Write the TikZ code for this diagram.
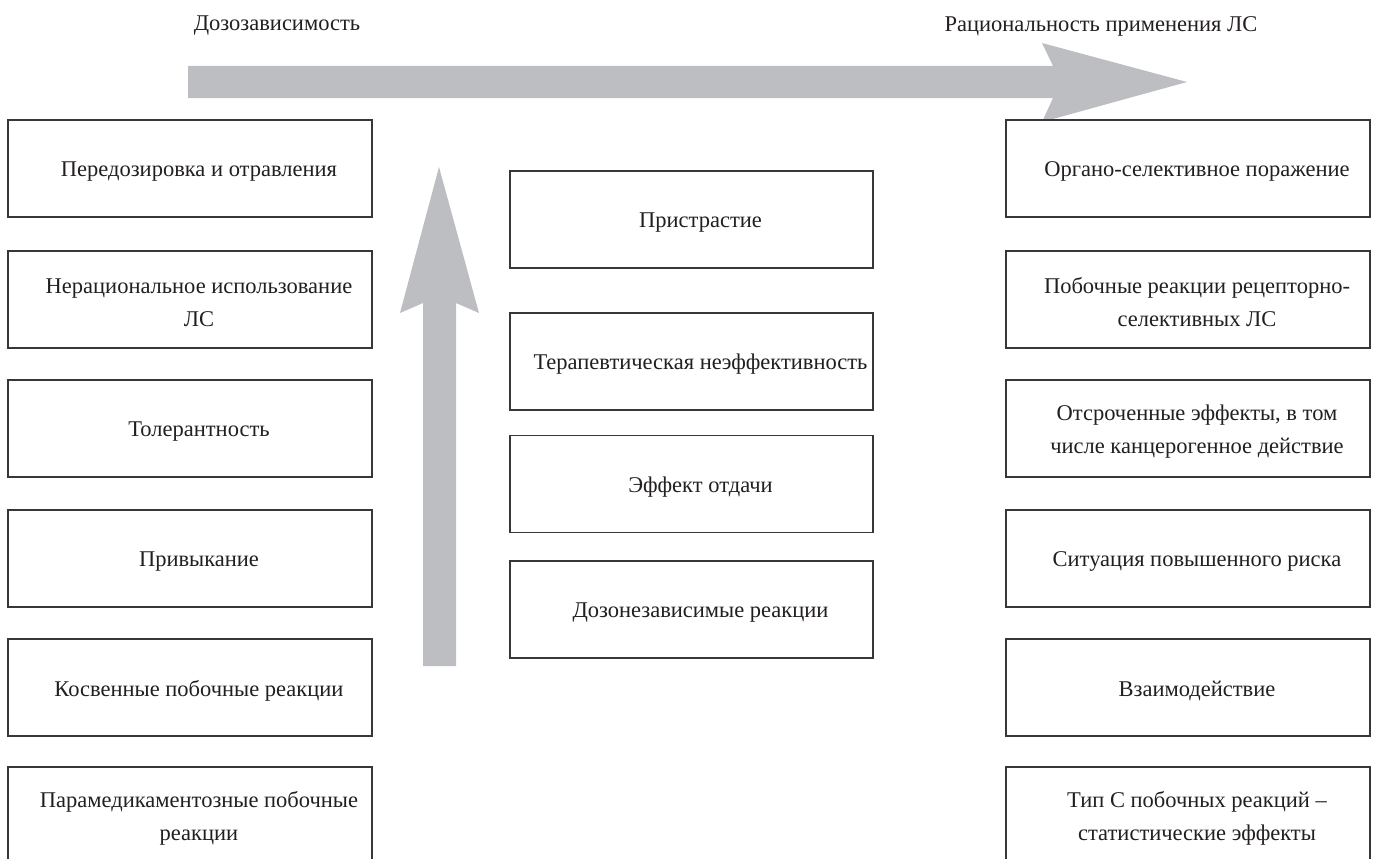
\documentclass[tikz,border=0pt]{standalone}
\usepackage{fontspec}
\setmainfont{Liberation Serif}
\definecolor{arrowgrey}{RGB}{189,190,194}
\definecolor{boxline}{RGB}{55,55,55}
\definecolor{txt}{RGB}{35,31,32}
\begin{document}
\begin{tikzpicture}[x=1pt,y=-1pt,
  every node/.style={font=\fontsize{22.5}{33}\selectfont, text=txt},
  cbox/.style={draw=boxline, line width=1.1pt, fill=white, minimum width=364pt, minimum height=97pt, inner sep=0pt},
  mbox/.style={cbox, minimum width=363pt},
  boxtext/.style={align=center, inner sep=0pt, xshift=9pt, yshift=-3pt},
  bigarrow/.style={fill=arrowgrey, draw=none}]
\useasboundingbox (0,0) rectangle (1373,859);
% top labels
\node (lab1) at (277,26) {Дозозависимость};
\node (lab2) at (1101,26) {Рациональность применения ЛС};
% horizontal arrow
\fill[bigarrow] (188,66) -- (1053,66) -- (1042,43) -- (1187,82) -- (1042,122) -- (1053,98) -- (188,98) -- cycle;
% vertical arrow
\fill[bigarrow] (423,666) -- (423,303) -- (400,313) -- (439,167) -- (479,313) -- (456,303) -- (456,666) -- cycle;
% left column
\node[cbox, label={[boxtext]center:Передозировка и отравления}] (l1) at (190,168.5) {};
\node[cbox, label={[boxtext]center:{Нерациональное использование\\ЛС}}] (l2) at (190,299.5) {};
\node[cbox, label={[boxtext]center:Толерантность}] (l3) at (190,428.5) {};
\node[cbox, label={[boxtext]center:Привыкание}] (l4) at (190,558.5) {};
\node[cbox, label={[boxtext]center:Косвенные побочные реакции}] (l5) at (190,687.5) {};
\node[cbox, label={[boxtext]center:{Парамедикаментозные побочные\\реакции}}] (l6) at (190,815.5) {};
% middle column
\node[mbox, label={[boxtext]center:Пристрастие}] (m1) at (691.5,219.5) {};
\node[mbox, label={[boxtext]center:Терапевтическая неэффективность}] (m2) at (691.5,361.5) {};
\node[mbox, label={[boxtext]center:Эффект отдачи}] (m3) at (691.5,484) {};
\node[mbox, label={[boxtext]center:Дозонезависимые реакции}] (m4) at (691.5,609.5) {};
% right column
\node[cbox, label={[boxtext]center:Органо-селективное поражение}] (r1) at (1188,168.5) {};
\node[cbox, label={[boxtext]center:{Побочные реакции рецепторно-\\селективных ЛС}}] (r2) at (1188,299.5) {};
\node[cbox, label={[boxtext]center:{Отсроченные эффекты, в том\\числе канцерогенное действие}}] (r3) at (1188,428.5) {};
\node[cbox, label={[boxtext]center:Ситуация повышенного риска}] (r4) at (1188,558.5) {};
\node[cbox, label={[boxtext]center:Взаимодействие}] (r5) at (1188,687.5) {};
\node[cbox, label={[boxtext]center:{Тип С побочных реакций –\\статистические эффекты}}] (r6) at (1188,815.5) {};
\end{tikzpicture}
\end{document}
